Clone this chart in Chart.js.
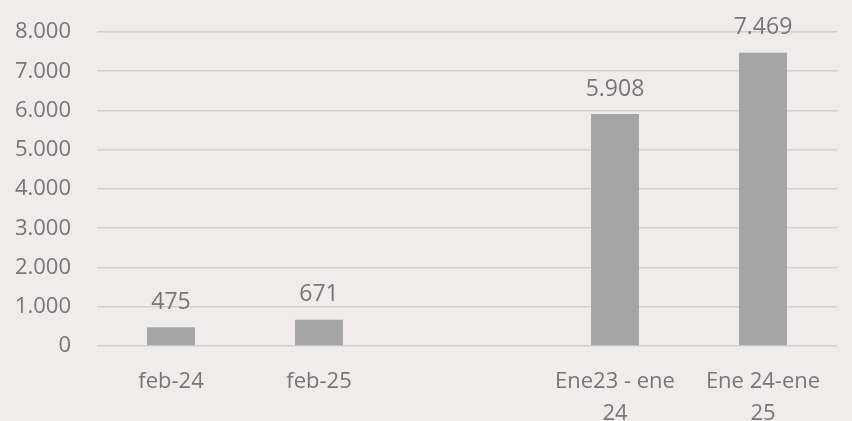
<!DOCTYPE html>
<html>
<head>
<meta charset="utf-8">
<script src="https://cdn.jsdelivr.net/npm/chart.js@4.4.1/dist/chart.umd.min.js"></script>
<style>
  html, body { margin: 0; padding: 0; background: #efeceb; }
  #wrap { width: 852px; height: 421px; position: relative; }
</style>
</head>
<body>
<div id="wrap"><canvas id="c" width="852" height="421"></canvas></div>
<script>
const categories = ["feb-24", "feb-25", "", ["Ene23 - ene", "24"], ["Ene 24-ene", "25"]];
const values = [475, 671, null, 5908, 7469];
const yTicks = [0, 1000, 2000, 3000, 4000, 5000, 6000, 7000, 8000];

const fmt = v => String(v).replace(/\B(?=(\d{3})+(?!\d))/g, ".");
const textColor = "#777777";
const fontFamily = "'Open Sans', 'DejaVu Sans', sans-serif";

const valueLabels = {
  id: "valueLabels",
  afterDatasetsDraw(chart) {
    const ctx = chart.ctx;
    const meta = chart.getDatasetMeta(0);
    ctx.save();
    ctx.font = "23px " + fontFamily;
    ctx.fillStyle = textColor;
    ctx.textAlign = "center";
    ctx.textBaseline = "middle";
    meta.data.forEach((bar, i) => {
      const v = values[i];
      if (v === null || v === undefined) return;
      ctx.fillText(fmt(v), bar.x, bar.y - 25);
    });
    ctx.restore();
  }
};

function draw() {
  new Chart(document.getElementById("c"), {
    type: "bar",
    data: {
      labels: categories,
      datasets: [{
        data: values,
        backgroundColor: "#a6a5a5",
        borderWidth: 0,
        barPercentage: 1,
        categoryPercentage: 0.324
      }]
    },
    options: {
      responsive: false,
      animation: false,
      devicePixelRatio: 1,
      layout: { padding: { left: 0, right: 15, top: 32, bottom: 0 } },
      plugins: { legend: { display: false }, tooltip: { enabled: false } },
      scales: {
        x: {
          grid: { display: false, drawTicks: false },
          border: { display: false },
          ticks: {
            color: textColor,
            font: { family: fontFamily, size: 22, lineHeight: 1.45 },
            padding: 20,
            maxRotation: 0,
            autoSkip: false
          },
          afterFit: s => { s.height = 75; s.paddingLeft = 0; s.paddingRight = 0; }
        },
        y: {
          min: 0,
          max: 8000,
          afterBuildTicks: s => { s.ticks = yTicks.map(v => ({ value: v })); },
          grid: { color: "#d3d1d0", lineWidth: 1.6, drawTicks: false },
          border: { display: false },
          ticks: {
            color: textColor,
            font: { family: fontFamily, size: 22 },
            padding: 26,
            callback: v => fmt(v)
          },
          afterFit: s => { s.width = 97; s.paddingTop = 0; s.paddingBottom = 0; }
        }
      }
    },
    plugins: [valueLabels]
  });
}

if (document.fonts && document.fonts.load) {
  Promise.all([
    document.fonts.load("22px 'Open Sans'"),
    document.fonts.load("23px 'Open Sans'")
  ]).then(draw, draw);
} else {
  draw();
}
</script>
</body>
</html>
